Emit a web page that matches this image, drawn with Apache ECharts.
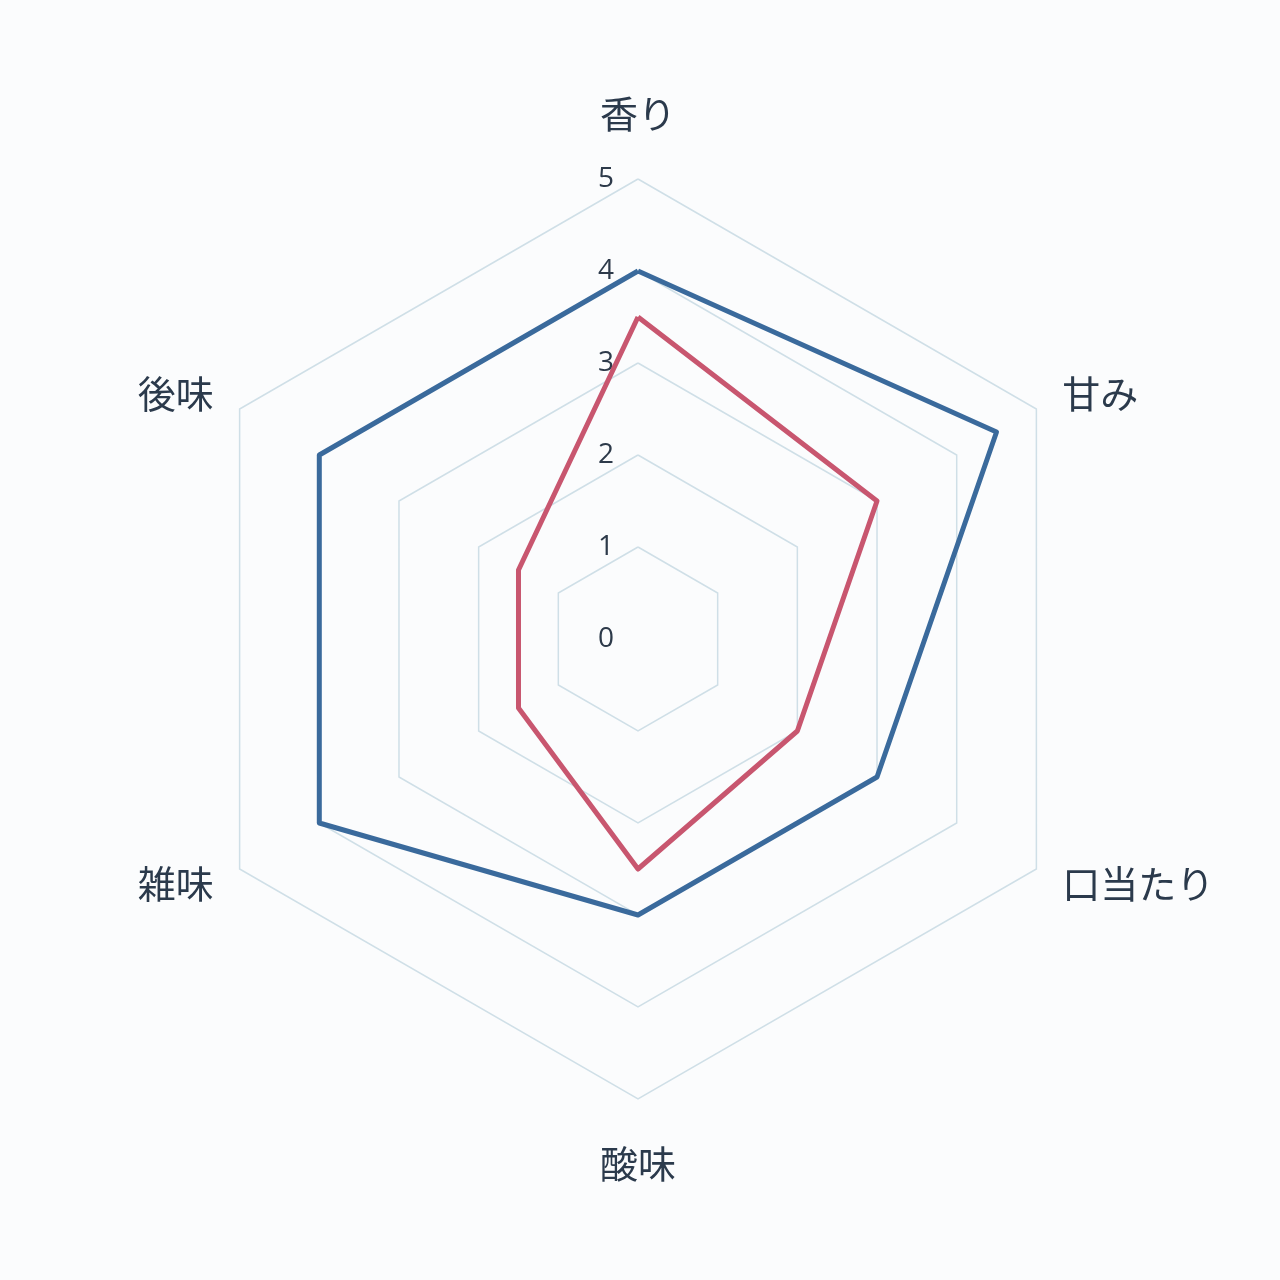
<!DOCTYPE html>
<html><head><meta charset="utf-8">
<script src="https://cdn.jsdelivr.net/npm/echarts@6/dist/echarts.min.js"></script>
<style>html,body{margin:0;padding:0;background:#fbfcfd;}#c{width:1280px;height:1280px;}</style>
</head><body><div id="c"></div>
<script>
const categories = ['香り','甘み','口当たり','酸味','雑味','後味'];
const seriesBlue = [4, 4.5, 3, 3, 4, 4];
const seriesRed = [3.5, 3, 2, 2.5, 1.5, 1.5];
const tickMax = 5;

// radar goes counter-clockwise; reorder so the categories run clockwise
const order = [0, 5, 4, 3, 2, 1];
const pick = arr => order.map(i => arr[i]);

const chart = echarts.init(document.getElementById('c'));
chart.setOption({
  backgroundColor: '#fbfcfd',
  animation: false,
  radar: {
    center: [638, 639],
    radius: 460,
    startAngle: 90,
    shape: 'polygon',
    splitNumber: 5,
    nameGap: 30,
    axisName: { color: '#2b3a4c', fontSize: 38, fontFamily: 'Noto Sans CJK JP' },
    indicator: order.map((ci, k) => ({
      name: categories[ci], min: 0, max: tickMax,
      nameGap: (ci === 0 || ci === 3) ? 46 : 30,
      axisLabel: k === 0 ? { show: true } : { show: false }
    })),
    axisLine: { show: false },
    axisTick: { show: false },
    axisLabel: { show: false, color: '#2d3a4a', fontSize: 28, fontFamily: 'Open Sans', margin: 24 },
    splitArea: { show: false },
    splitLine: { lineStyle: { color: '#cfdfe7', width: 1.5 } }
  },
  series: [{
    type: 'radar',
    symbol: 'none',
    data: [
      { value: pick(seriesBlue), lineStyle: { color: '#3a6a9c', width: 5 } },
      { value: pick(seriesRed), lineStyle: { color: '#c8566f', width: 5 } }
    ]
  }]
});
</script></body></html>
